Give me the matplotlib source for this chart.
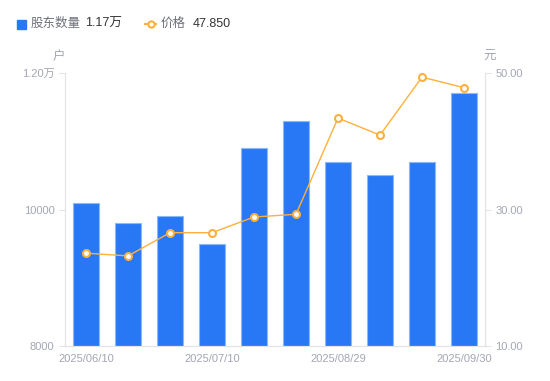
import numpy as np
import matplotlib
matplotlib.use('Agg')
import matplotlib.pyplot as plt
from matplotlib.lines import Line2D
from matplotlib.patches import Rectangle

plt.rcParams['font.family'] = ['Liberation Sans', 'Noto Sans CJK SC', 'DejaVu Sans']

dates = ['2025/06/10', '2025/06/20', '2025/06/30', '2025/07/10', '2025/07/18',
         '2025/07/31', '2025/08/29', '2025/09/10', '2025/09/19', '2025/09/30']
holders = [10100, 9800, 9900, 9500, 10900, 11300, 10700, 10500, 10700, 11700]
price = [23.6, 23.2, 26.6, 26.6, 28.9, 29.3, 43.4, 40.9, 49.4, 47.85]
shown_ticks = [0, 3, 6, 9]

blue = '#2878f5'
orange = '#fdb03c'
gray = '#a3a6b4'
axis_col = '#e3e4e8'

fig = plt.figure(figsize=(5.5, 3.81), dpi=100)
ax = fig.add_axes([65/550, 35/381, 420/550, 273/381])
ax2 = ax.twinx()

x = np.arange(len(dates))
ax.bar(x, holders, width=0.6, color=blue, edgecolor='#8db8f8', linewidth=0.8, zorder=2)
ax.set_xlim(-0.5, len(dates) - 0.5)
ax.set_ylim(8000, 12000)
ax.set_yticks([8000, 10000, 12000])
ax.set_yticklabels(['8000', '10000', '1.20万'])
ax.set_xticks(shown_ticks)
ax.set_xticklabels([dates[i] for i in shown_ticks])

ax2.plot(x, price, color=orange, linewidth=1, marker='o', markersize=5,
         markerfacecolor='white', markeredgecolor=orange, markeredgewidth=1.5, zorder=3)
ax2.set_ylim(10, 50)
ax2.set_yticks([10, 30, 50])
ax2.set_yticklabels(['10.00', '30.00', '50.00'])

for a in (ax, ax2):
    for s in a.spines.values():
        s.set_color(axis_col)
    a.spines['top'].set_visible(False)
    a.tick_params(colors=gray, labelsize=8, length=4, width=0.8)
    a.tick_params(axis='y', color=axis_col, labelcolor=gray)
ax.tick_params(axis='x', length=0, pad=6)

fig.text(59/550, 1 - 57/381, '户', color=gray, fontsize=9, ha='center', va='center')
fig.text(490/550, 1 - 57/381, '元', color=gray, fontsize=9, ha='center', va='center')

# legend
ly = 1 - 24/381
fig.add_artist(Rectangle((17/550, ly - 4.5/381), 9/550, 9/381, transform=fig.transFigure,
                         color=blue, clip_on=False))
fig.text(31/550, ly, '股东数量', color='#6e7079', fontsize=9, va='center')
fig.text(85/550, ly, '1.17万', color='#333333', fontsize=9, va='center')
fig.add_artist(Line2D([145/550, 156/550], [ly, ly], transform=fig.transFigure,
                      color=orange, linewidth=1.5))
fig.add_artist(Line2D([150.5/550], [ly], transform=fig.transFigure, marker='o',
                      markersize=4.5, markerfacecolor='white', markeredgecolor=orange,
                      markeredgewidth=1.5))
fig.text(161/550, ly, '价格', color='#6e7079', fontsize=9, va='center')
fig.text(193/550, ly, '47.850', color='#333333', fontsize=9, va='center')

fig.savefig('out.png', dpi=100)
